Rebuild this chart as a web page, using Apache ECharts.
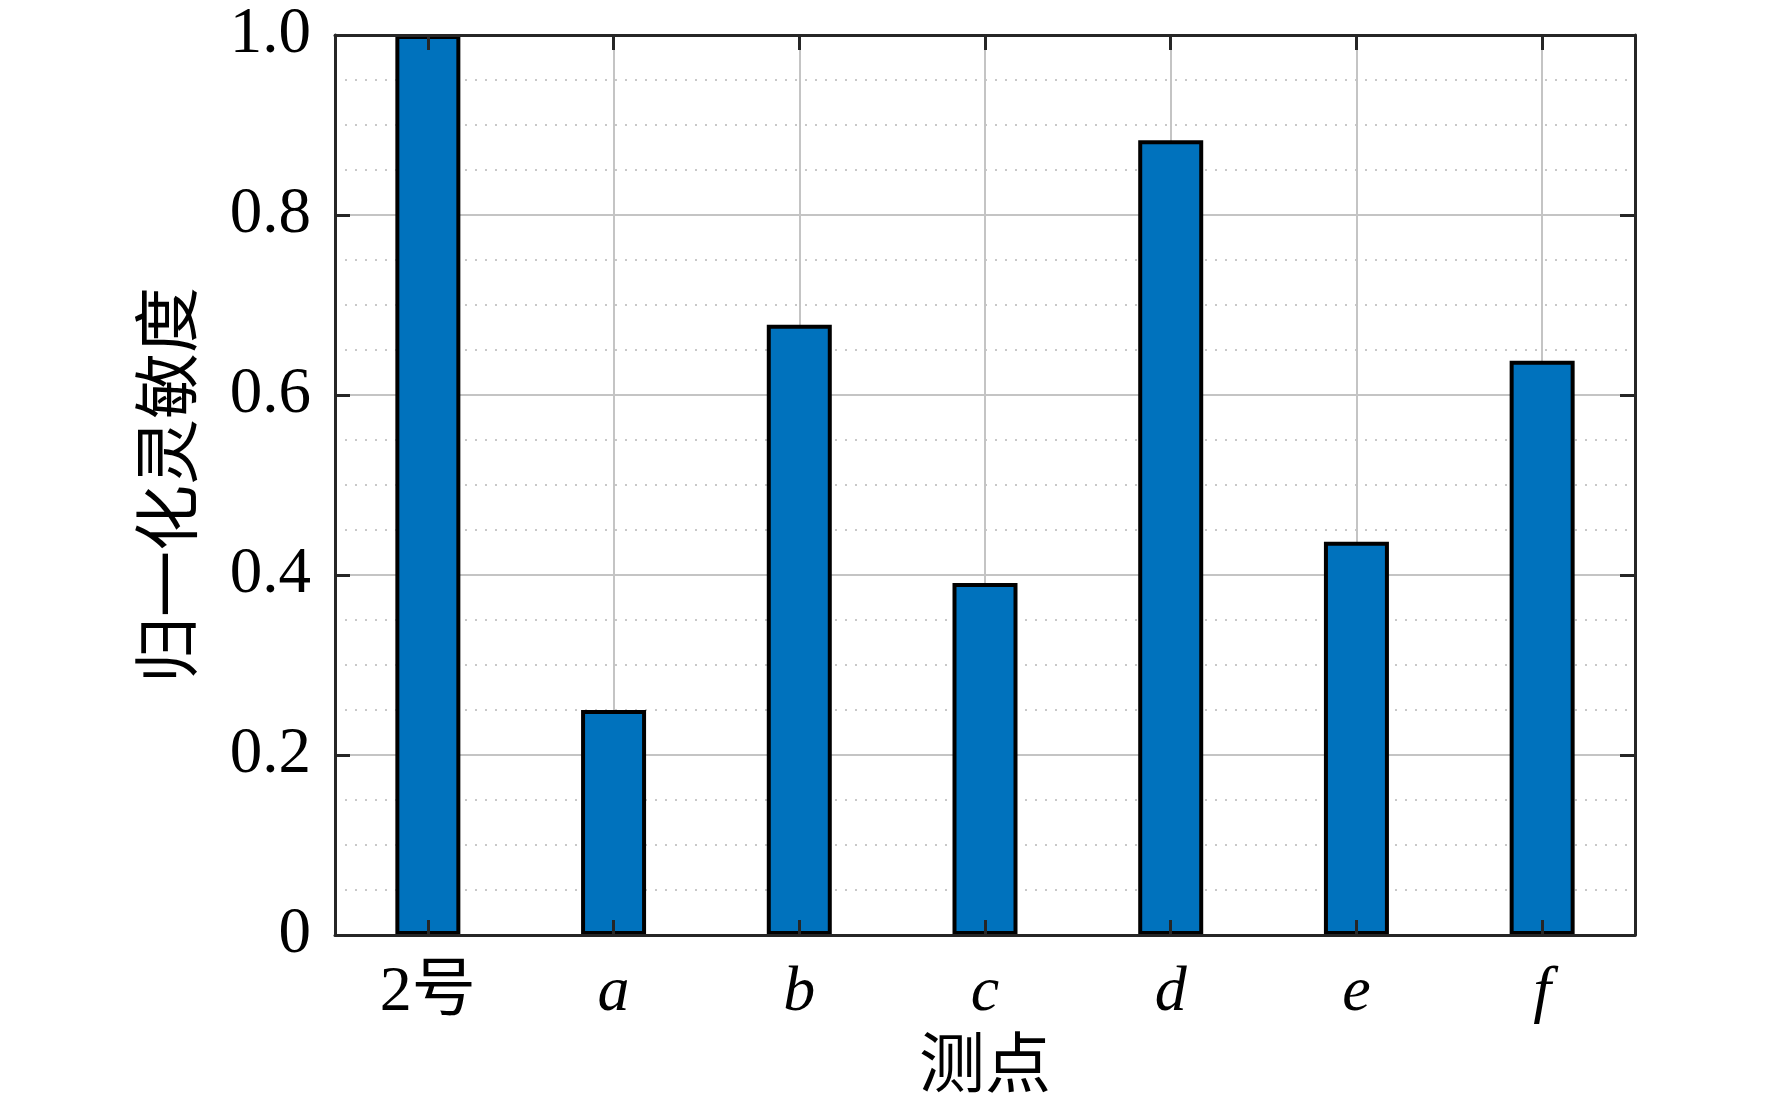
<!DOCTYPE html>
<html>
<head>
<meta charset="utf-8">
<script src="https://cdn.jsdelivr.net/npm/echarts@6/dist/echarts.min.js"></script>
<style>
html,body{margin:0;padding:0;background:#fff;}
#chart{width:1772px;height:1112px;}
</style>
</head>
<body>
<div id="chart"></div>
<script>
const categories = ['2号', 'a', 'b', 'c', 'd', 'e', 'f'];
const sensitivity = [1.0, 0.25, 0.678, 0.391, 0.883, 0.437, 0.638];
const yTicks = [0, 0.2, 0.4, 0.6, 0.8, 1.0];
const yName = '归一化灵敏度';
const xName = '测点';

const FONT = '"Liberation Serif", "Times New Roman", "Noto Sans CJK SC", serif';
const AXIS_COLOR = '#262626';

const chart = echarts.init(document.getElementById('chart'), null, {renderer: 'canvas'});

const gridBox = {left: 335, top: 35, width: 1300, height: 900};

function frameX(position) {
  return {
    type: 'category', data: categories, position: position, gridIndex: 0,
    boundaryGap: true, z: 10,
    axisLine: {show: true, onZero: false, lineStyle: {color: AXIS_COLOR, width: 3}},
    axisTick: {show: true, inside: true, alignWithLabel: true, length: 15, lineStyle: {color: AXIS_COLOR, width: 3}},
    axisLabel: {show: false}, splitLine: {show: false}
  };
}
function frameY(position) {
  return {
    type: 'value', min: yTicks[0], max: yTicks[yTicks.length - 1], interval: 0.2, position: position, gridIndex: 0, z: 10,
    axisLine: {show: true, onZero: false, lineStyle: {color: AXIS_COLOR, width: 3}},
    axisTick: {show: true, inside: true, length: 15, lineStyle: {color: AXIS_COLOR, width: 3}},
    axisLabel: {show: false}, splitLine: {show: false}
  };
}

const option = {
  backgroundColor: '#ffffff',
  animation: false,
  grid: Object.assign({containLabel: false}, gridBox),
  xAxis: [
    {
      type: 'category', data: categories, position: 'bottom', boundaryGap: true, z: 0,
      name: xName, nameLocation: 'middle', nameGap: 102,
      nameTextStyle: {fontFamily: FONT, fontSize: 66, color: '#000'},
      axisLine: {show: false},
      axisTick: {show: false, alignWithLabel: true},
      axisLabel: {
        show: true, margin: 26, fontFamily: FONT, fontSize: 64, color: '#000',
        formatter: function (v) { return v === '2号' ? v : '{i|' + v + '}'; },
        rich: {i: {fontFamily: FONT, fontSize: 64, fontStyle: 'italic', color: '#000'}}
      },
      splitLine: {show: true, alignWithLabel: true, lineStyle: {color: '#c4c4c4', width: 2}}
    },
    frameX('bottom'),
    frameX('top')
  ],
  yAxis: [
    {
      type: 'value', min: yTicks[0], max: yTicks[yTicks.length - 1], interval: 0.2, position: 'left', z: 0,
      name: yName, nameLocation: 'middle', nameGap: 128, nameRotate: 90,
      nameTextStyle: {fontFamily: FONT, fontSize: 66, color: '#000'},
      axisLine: {show: false},
      axisTick: {show: false},
      minorTick: {show: false, splitNumber: 4},
      axisLabel: {
        show: true, margin: 24, fontFamily: FONT, fontSize: 65, color: '#000',
        formatter: function (v) { return v === 0 ? '0' : v.toFixed(1); }
      },
      splitLine: {show: true, lineStyle: {color: '#c4c4c4', width: 2}},
      minorSplitLine: {show: true, lineStyle: {color: '#c8c8c8', width: 2, type: [2, 8]}}
    },
    frameY('left'),
    frameY('right')
  ],
  series: [
    {
      type: 'bar', xAxisIndex: 0, yAxisIndex: 0, data: sensitivity,
      barWidth: 65, z: 5,
      itemStyle: {color: '#0072BD', borderColor: '#000000', borderWidth: 4}
    }
  ]
};
chart.setOption(option);
</script>
</body>
</html>
